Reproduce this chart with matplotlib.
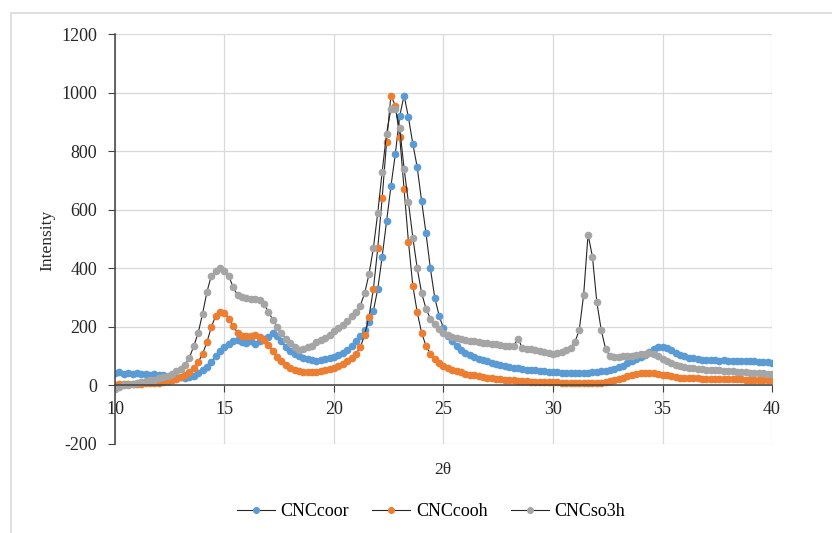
import numpy as np
import matplotlib
matplotlib.use("Agg")
import matplotlib.pyplot as plt
from matplotlib.patches import Rectangle

# scan axis, 10-40 deg in 0.2 deg steps
two_theta = np.linspace(10, 40, 151)

cnc_coor = [
    42, 45, 40, 44, 38, 42, 38, 40, 36, 38,
    34, 36, 30, 32, 27, 28, 25, 28, 32, 42,
    52, 64, 80, 100, 118, 132, 142, 150, 154, 148,
    145, 150, 142, 150, 158, 165, 178, 168, 150, 132,
    118, 108, 100, 94, 90, 86, 84, 86, 90, 94,
    98, 104, 112, 122, 136, 150, 168, 188, 215, 255,
    330, 440, 560, 680, 790, 920, 990, 915, 825, 745,
    630, 520, 400, 300, 238, 195, 170, 150, 135, 122,
    112, 104, 97, 91, 86, 82, 78, 74, 70, 66,
    63, 60, 58, 56, 54, 53, 51, 50, 48, 47,
    46, 45, 44, 44, 43, 43, 44, 43, 44, 45,
    46, 48, 50, 53, 57, 62, 68, 75, 82, 89,
    96, 104, 114, 124, 130, 132, 128, 120, 112, 105,
    99, 95, 92, 90, 88, 87, 86, 86, 85, 86,
    85, 84, 85, 83, 84, 82, 83, 81, 80, 80,
    78,
]

cnc_cooh = [
    3, 4, 4, 5, 5, 6, 6, 7, 7, 8,
    9, 11, 14, 18, 23, 29, 36, 46, 60, 80,
    108, 148, 200, 238, 252, 246, 228, 202, 180, 170,
    168, 170, 172, 167, 155, 138, 118, 98, 82, 69,
    60, 54, 50, 47, 46, 46, 47, 49, 52, 56,
    61, 67, 74, 82, 94, 108, 130, 172, 235, 330,
    470, 640, 830, 990, 955, 850, 670, 490, 340, 250,
    180, 135, 108, 90, 77, 67, 60, 54, 49, 45,
    40, 37, 34, 31, 29, 27, 25, 23, 21, 20,
    18, 17, 16, 15, 14, 13, 12, 12, 11, 11,
    10, 10, 9, 9, 9, 8, 8, 8, 8, 8,
    8, 9, 11, 14, 17, 21, 26, 31, 35, 39,
    42, 43, 43, 42, 40, 37, 34, 31, 29, 27,
    26, 25, 24, 24, 23, 23, 23, 23, 22, 22,
    22, 21, 21, 21, 20, 20, 20, 19, 19, 18,
    17,
]

cnc_so3h = [
    -12, -5, 0, 3, 6, 9, 11, 14, 18, 20,
    24, 28, 33, 40, 48, 56, 70, 95, 135, 180,
    245, 320, 375, 390, 400, 392, 372, 335, 308, 302,
    298, 296, 294, 290, 278, 252, 225, 200, 180, 160,
    145, 130, 122, 124, 130, 136, 148, 156, 162, 172,
    185, 196, 208, 220, 236, 252, 272, 315, 380, 470,
    590, 730, 860, 945, 945, 880, 740, 625, 505, 400,
    316, 262, 228, 210, 192, 180, 172, 166, 162, 158,
    155, 152, 150, 148, 146, 145, 142, 140, 138, 136,
    133, 135, 160, 128, 125, 123, 120, 118, 114, 110,
    108, 110, 115, 120, 128, 148, 190, 310, 515, 440,
    285, 190, 125, 100, 96, 98, 100, 100, 102, 104,
    106, 108, 110, 108, 100, 90, 82, 75, 70, 66,
    62, 60, 58, 56, 55, 54, 53, 52, 51, 50,
    49, 48, 47, 46, 45, 44, 43, 42, 41, 40,
    38,
]

series_names = ["CNCcoor", "CNCcooh", "CNCso3h"]
marker_colors = ["#5B9BD5", "#ED7D31", "#A5A5A5"]

plt.rcParams["font.family"] = ["Liberation Serif", "DejaVu Serif"]
plt.rcParams["axes.unicode_minus"] = False

fig = plt.figure(figsize=(8.32, 5.33), dpi=100)
ax = fig.add_axes([0.1382, 0.167, 0.7897, 0.7692])

# light frame around the chart area
fig.patches.append(Rectangle((11 / 832, -0.05), 1.2, 1 - 13 / 533 + 0.05,
                             transform=fig.transFigure, fill=False,
                             edgecolor="#D9D9D9", linewidth=1.2))

for ys, name, col in zip([cnc_coor, cnc_cooh, cnc_so3h], series_names, marker_colors):
    ax.plot(two_theta, ys, color="#262626", linewidth=0.8,
            marker="o", markersize=4.5, markerfacecolor=col,
            markeredgecolor=col, label=name)

ax.set_xlim(10, 40)
ax.set_ylim(-200, 1200)
ax.set_xticks(np.arange(10, 41, 5))
ax.set_yticks(np.arange(-200, 1201, 200))
ax.grid(True, color="#D9D9D9", linewidth=0.9)
ax.set_axisbelow(True)

for side in ["top", "right"]:
    ax.spines[side].set_visible(False)
ax.spines["bottom"].set_position(("data", 0))
ax.spines["left"].set_color("#404040")
ax.spines["bottom"].set_color("#404040")
ax.spines["left"].set_linewidth(1.1)
ax.spines["bottom"].set_linewidth(1.1)
ax.tick_params(axis="both", direction="out", length=5, color="#404040",
               labelsize=13, labelcolor="#262626")
ax.tick_params(axis="y", pad=8)
ax.tick_params(axis="x", pad=6)

fig.text(47 / 832, 1 - 240 / 533, "Intensity", rotation=90, fontsize=12.5,
         ha="center", va="center", color="#262626")
fig.text(443 / 832, 1 - 470 / 533, "2θ", fontsize=12.5,
         ha="center", va="center", color="#262626")

fig.legend(loc="center", bbox_to_anchor=(431 / 832, 1 - 512 / 533), ncol=3,
           frameon=False, fontsize=13, numpoints=1, handlelength=2.1,
           handletextpad=0.3, columnspacing=1.3, markerscale=0.9)

fig.savefig("out.png", dpi=100)
